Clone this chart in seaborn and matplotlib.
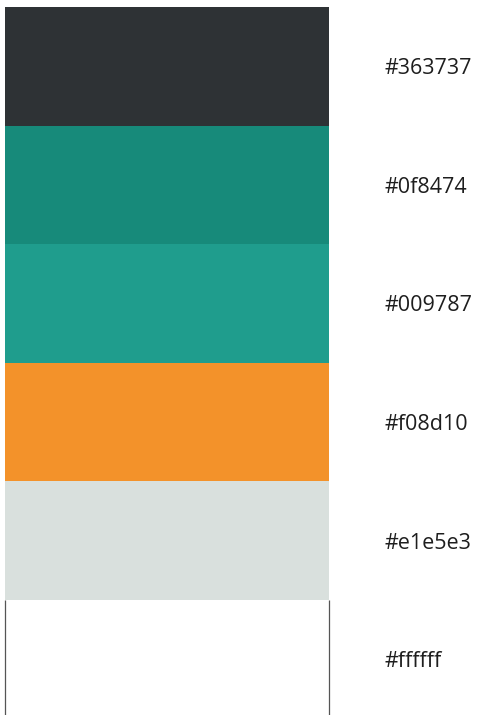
"""Colour palette swatches with hex labels."""

import matplotlib

matplotlib.use("Agg")

import matplotlib.pyplot as plt
import pandas as pd
import seaborn as sns

labels = ["#363737", "#0f8474", "#009787", "#f08d10", "#e1e5e3", "#ffffff"]
fills = ["#2e3235", "#178a7a", "#1f9d8d", "#f3922a", "#d9e0dd", "#ffffff"]
widths = [1, 1, 1, 1, 1, 1]

sns.set_theme(style="white")
plt.rcParams["font.family"] = ["Open Sans", "DejaVu Sans"]

df = pd.DataFrame({"label": labels, "width": widths})

fig = plt.figure(figsize=(4.85, 7.15), dpi=100)
ax = fig.add_axes([5 / 485, 1 - 718.5 / 715, 324 / 485, 711.5 / 715])

sns.barplot(data=df, x="width", y="label", hue="label", palette=fills,
            width=1.0, legend=False, ax=ax, saturation=1, linewidth=0)

ax.set_xlim(0, 1)
ax.set_ylim(len(labels) - 0.5, -0.5)
ax.set_xlabel("")
ax.set_ylabel("")
ax.set_xticks([])
for spine in ax.spines.values():
    spine.set_visible(False)

# thin outline on the sides of the white swatch
last = len(labels) - 1
ax.vlines([0.0, 1.0], last - 0.5, last + 0.5, color="#555555",
          linewidth=0.9, clip_on=False)

ax.yaxis.tick_right()
ax.tick_params(axis="y", length=0, pad=40, labelsize=15.5, labelcolor="#1e1e1e")

fig.savefig("out.png", dpi=100)
plt.close(fig)
